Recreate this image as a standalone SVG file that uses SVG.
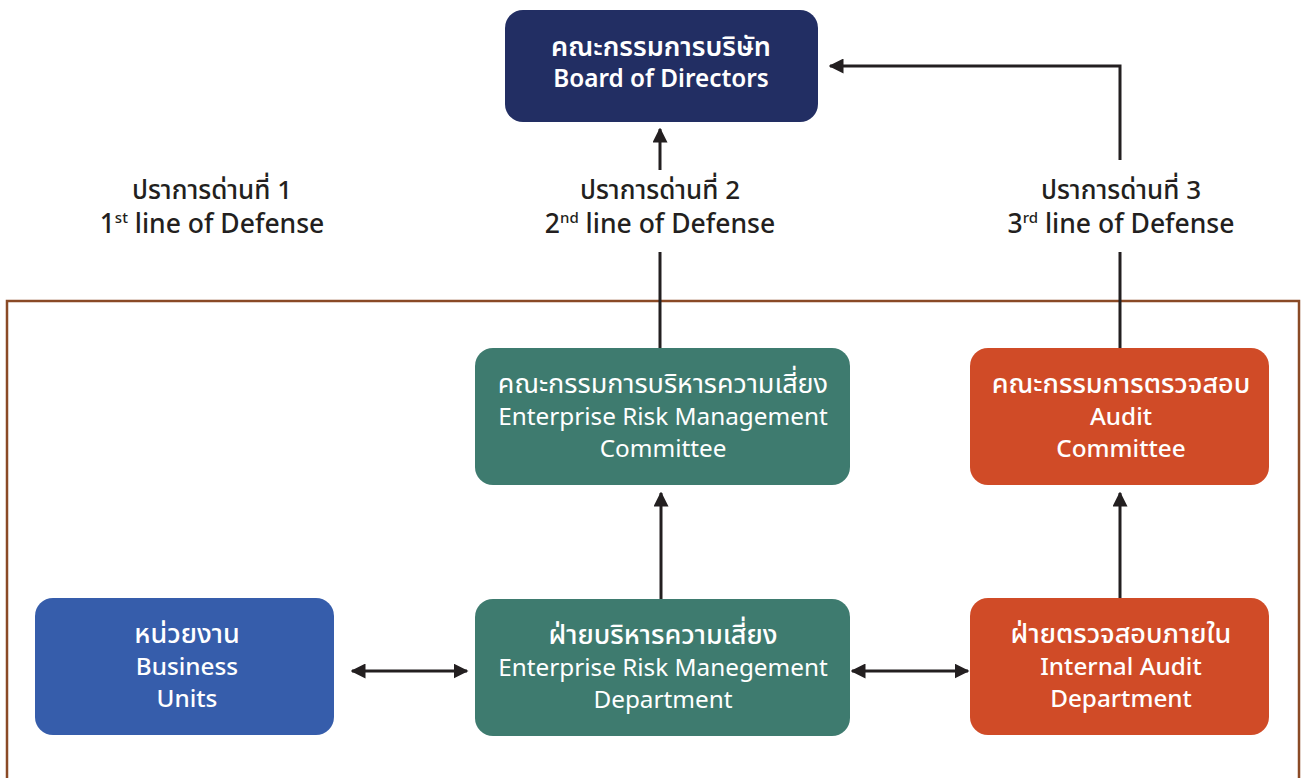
<svg xmlns="http://www.w3.org/2000/svg" width="1301" height="778" viewBox="0 0 1301 778">
<defs>
<style>
.t{font-family:"Noto Sans","Noto Sans Thai","DejaVu Sans",sans-serif;fill:#fff;font-size:24.3px;text-anchor:middle;font-weight:400}
.th{font-size:27px;font-weight:400}
.b{font-weight:600}
.m{font-weight:500}
.l{font-family:"Noto Sans","Noto Sans Thai","DejaVu Sans",sans-serif;fill:#231f20;font-size:26.5px;text-anchor:middle;font-weight:500}
.lth{font-size:26px}
.c{stroke:#231f20;stroke-width:3;fill:none}
</style>
<marker id="ah" viewBox="0 0 10 10" refX="9" refY="5" markerWidth="5" markerHeight="5" markerUnits="strokeWidth" orient="auto-start-reverse">
<path d="M0,0 L10,5 L0,10 z" fill="#231f20"/>
</marker>
</defs>
<rect width="1301" height="778" fill="#fff"/>
<rect x="7" y="301" width="1292" height="500" fill="none" stroke="#8a4a26" stroke-width="2.5"/>
<g id="connectors">
<path class="c" d="M1120,348 V252"/>
<path class="c" d="M1120,160 V66 H830" marker-end="url(#ah)"/>
<path class="c" d="M660,348 V252"/>
<path class="c" d="M660,170 V129" marker-end="url(#ah)"/>
<path class="c" d="M661,599 V493" marker-end="url(#ah)"/>
<path class="c" d="M1120,598 V493" marker-end="url(#ah)"/>
<path class="c" d="M352,671 H467" marker-start="url(#ah)" marker-end="url(#ah)"/>
<path class="c" d="M852,671 H968" marker-start="url(#ah)" marker-end="url(#ah)"/>
</g>
<g id="board">
<rect x="505" y="10" width="313" height="112" rx="18" fill="#222e63"/>
<text class="t th b" x="661" y="56">คณะกรรมการบริษัท</text>
<text class="t b" x="661" y="87">Board of Directors</text>
</g>
<g id="label1">
<text class="l lth" x="212" y="199">ปราการด่านที่ 1</text>
<text class="l" x="212" y="233">1<tspan font-size="15" dy="-10">st</tspan><tspan dy="10"> line of Defense</tspan></text>
</g>
<g id="label2">
<text class="l lth" x="660" y="199">ปราการด่านที่ 2</text>
<text class="l" x="660" y="233">2<tspan font-size="15" dy="-10">nd</tspan><tspan dy="10"> line of Defense</tspan></text>
</g>
<g id="label3">
<text class="l lth" x="1121" y="199">ปราการด่านที่ 3</text>
<text class="l" x="1121" y="233">3<tspan font-size="15" dy="-10">rd</tspan><tspan dy="10"> line of Defense</tspan></text>
</g>
<g id="erm-committee">
<rect x="475" y="348" width="375" height="137" rx="18" fill="#3e7b6f"/>
<text class="t th" x="663" y="393">คณะกรรมการบริหารความเสี่ยง</text>
<text class="t" x="663" y="425">Enterprise Risk Management</text>
<text class="t" x="663" y="457">Committee</text>
</g>
<g id="audit-committee">
<rect x="970" y="348" width="299" height="137" rx="18" fill="#d04b27"/>
<text class="t th m" x="1121" y="393">คณะกรรมการตรวจสอบ</text>
<text class="t m" x="1121" y="425">Audit</text>
<text class="t m" x="1121" y="457">Committee</text>
</g>
<g id="business-units">
<rect x="35" y="598" width="299" height="137" rx="18" fill="#365dab"/>
<text class="t th m" x="187" y="643">หน่วยงาน</text>
<text class="t m" x="187" y="675">Business</text>
<text class="t m" x="187" y="707">Units</text>
</g>
<g id="erm-department">
<rect x="475" y="599" width="375" height="137" rx="18" fill="#3e7b6f"/>
<text class="t th m" x="663" y="644">ฝ่ายบริหารความเสี่ยง</text>
<text class="t" x="663" y="676">Enterprise Risk Manegement</text>
<text class="t" x="663" y="708">Department</text>
</g>
<g id="internal-audit">
<rect x="970" y="598" width="299" height="137" rx="18" fill="#d04b27"/>
<text class="t th m" x="1121" y="643">ฝ่ายตรวจสอบภายใน</text>
<text class="t m" x="1121" y="675">Internal Audit</text>
<text class="t m" x="1121" y="707">Department</text>
</g>
</svg>
